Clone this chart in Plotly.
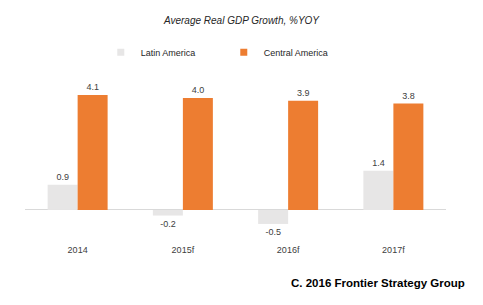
import plotly.graph_objects as go

categories = ["2014", "2015f", "2016f", "2017f"]
latin_america = [0.9, -0.2, -0.5, 1.4]
central_america = [4.1, 4.0, 3.9, 3.8]

font_family = "Liberation Sans, Arial, sans-serif"
text_color = "#404040"
latin_color = "#E7E6E6"
central_color = "#ED7D31"

fig = go.Figure()
fig.add_trace(go.Bar(
    x=categories, y=latin_america, name="Latin America", showlegend=False,
    marker=dict(color=latin_color, line=dict(width=0)),
    text=[f"{v:.1f}" for v in latin_america], textposition="outside",
    textfont=dict(size=9, color=text_color, family=font_family),
    cliponaxis=False,
))
fig.add_trace(go.Bar(
    x=categories, y=central_america, name="Central America", showlegend=False,
    marker=dict(color=central_color, line=dict(width=0)),
    text=[f"{v:.1f}" for v in central_america], textposition="outside",
    textfont=dict(size=9, color=text_color, family=font_family),
    cliponaxis=False,
))
# legend entries with small square symbols
for name, col in [("Latin America", latin_color), ("Central America", central_color)]:
    fig.add_trace(go.Scatter(x=[None], y=[None], mode="markers", name=name,
                             marker=dict(symbol="square", size=7, color=col)))

fig.update_layout(
    width=483, height=305,
    margin=dict(l=25, r=37, t=80, b=62),
    paper_bgcolor="white", plot_bgcolor="white",
    barmode="group", bargap=0.43, bargroupgap=0,
    font=dict(family=font_family, size=9, color=text_color),
    title=dict(text="<i>Average Real GDP Growth, %YOY</i>", x=0.5, xanchor="center",
               y=0.932, yanchor="middle",
               font=dict(size=10, color="#262626", family=font_family)),
    legend=dict(orientation="h", x=0.18, xanchor="left", y=1.17, yanchor="middle",
                font=dict(size=9, color="#262626", family=font_family),
                entrywidth=78, entrywidthmode="pixels", itemwidth=30,
                bgcolor="rgba(0,0,0,0)"),
    showlegend=True,
)
fig.update_xaxes(showgrid=False, showline=False, ticks="", tickfont=dict(size=9, color=text_color))
fig.update_yaxes(range=[-1.18, 4.64], showgrid=False, showticklabels=False, zeroline=True,
                 zerolinecolor="#D9D9D9", zerolinewidth=1, ticks="")

fig.add_annotation(text="<b>C. 2016 Frontier Strategy Group</b>", xref="paper", yref="paper",
                   x=1.05, xanchor="right", y=-0.245, yanchor="middle",
                   showarrow=False, font=dict(size=11.5, color="#000000", family=font_family))

fig.write_html("out.html")
